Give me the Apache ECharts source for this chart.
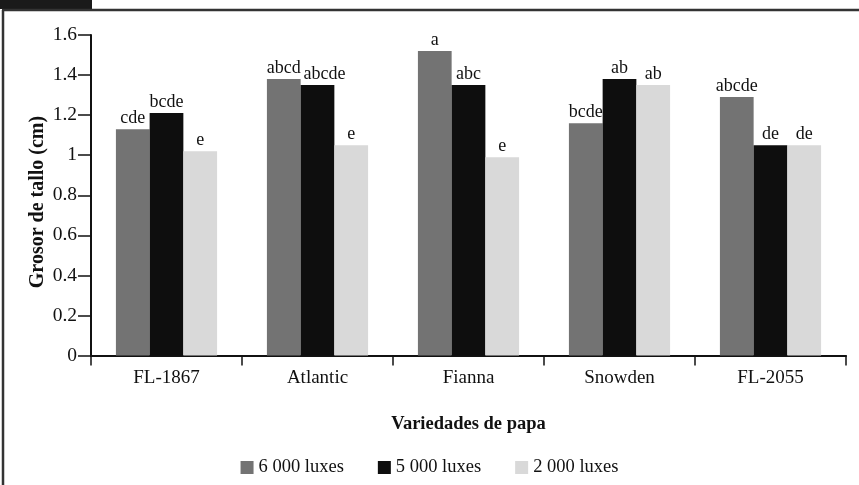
<!DOCTYPE html>
<html><head><meta charset="utf-8">
<script src="https://cdn.jsdelivr.net/npm/echarts@6/dist/echarts.min.js"></script>
<style>html,body{margin:0;padding:0;background:#fff}#c{width:859px;height:485px}</style>
</head><body><div id="c"></div>
<script>
const categories = ['FL-1867', 'Atlantic', 'Fianna', 'Snowden', 'FL-2055'];
const seriesNames = ['6 000 luxes', '5 000 luxes', '2 000 luxes'];
const lux6000 = [1.13, 1.38, 1.52, 1.16, 1.29];
const lux5000 = [1.21, 1.35, 1.35, 1.38, 1.05];
const lux2000 = [1.02, 1.05, 0.99, 1.35, 1.05];
const labels6000 = ['cde', 'abcd', 'a', 'bcde', 'abcde'];
const labels5000 = ['bcde', 'abcde', 'abc', 'ab', 'de'];
const labels2000 = ['e', 'e', 'e', 'ab', 'de'];
const colors = ['#737373', '#0e0e0e', '#d9d9d9'];
const yAxisTitle = 'Grosor de tallo (cm)';
const xAxisTitle = 'Variedades de papa';
const font = 'Liberation Serif, Times New Roman, serif';

function mk(name, vals, labs, color, shiftIdx) {
  return {
    name: name, type: 'bar', barGap: '0%', barCategoryGap: '33%',
    data: vals.map((v, i) => (i === shiftIdx ? { value: v, label: { offset: [7, 0] } } : v)),
    itemStyle: { color: color },
    label: {
      show: true, position: 'top', distance: 2,
      fontFamily: font, fontSize: 18, color: '#111',
      formatter: p => labs[p.dataIndex]
    }
  };
}

const chart = echarts.init(document.getElementById('c'));
chart.setOption({
  animation: false,
  backgroundColor: '#fff',
  textStyle: { fontFamily: font },
  grid: { left: 91, right: 13, top: 35, bottom: 129.5 },
  legend: {
    bottom: 3, left: 'center',
    itemWidth: 13, itemHeight: 13, itemGap: 34,
    icon: 'rect',
    textStyle: { fontFamily: font, fontSize: 18.5, color: '#111' },
    data: seriesNames
  },
  xAxis: {
    type: 'category', data: categories,
    name: xAxisTitle, nameLocation: 'middle', nameGap: 59,
    nameTextStyle: { fontFamily: font, fontSize: 18.5, fontWeight: 'bold', color: '#111' },
    axisLine: { lineStyle: { color: '#111', width: 2 } },
    axisTick: { show: true, length: 10, lineStyle: { color: '#111', width: 1.5 } },
    axisLabel: { fontFamily: font, fontSize: 19, color: '#111', margin: 13 }
  },
  yAxis: {
    type: 'value', min: 0, max: 1.6, interval: 0.2,
    splitLine: { show: false },
    axisLine: { show: true, lineStyle: { color: '#111', width: 2 } },
    axisTick: { show: true, length: 13, lineStyle: { color: '#111', width: 1.5 } },
    axisLabel: { fontFamily: font, fontSize: 19.5, color: '#111', margin: 14, verticalAlign: 'middle', padding: [0, 0, 4, 0] }
  },
  series: [
    mk(seriesNames[0], lux6000, labels6000, colors[0], -1),
    mk(seriesNames[1], lux5000, labels5000, colors[1], 1),
    mk(seriesNames[2], lux2000, labels2000, colors[2], -1)
  ],
  graphic: [
    { type: 'rect', shape: { x: 0, y: 0, width: 92, height: 9 }, style: { fill: '#1a1a1a' } },
    { type: 'line', shape: { x1: 2, y1: 10, x2: 859, y2: 10 }, style: { stroke: '#333', lineWidth: 2.5 } },
    { type: 'line', shape: { x1: 3, y1: 10, x2: 3, y2: 485 }, style: { stroke: '#333', lineWidth: 2.5 } },
    { type: 'text', x: 38, y: 202, rotation: Math.PI / 2,
      style: { text: yAxisTitle, font: 'bold 20px ' + font, fill: '#111', align: 'center', verticalAlign: 'middle' } }
  ]
});
</script>
</body></html>
